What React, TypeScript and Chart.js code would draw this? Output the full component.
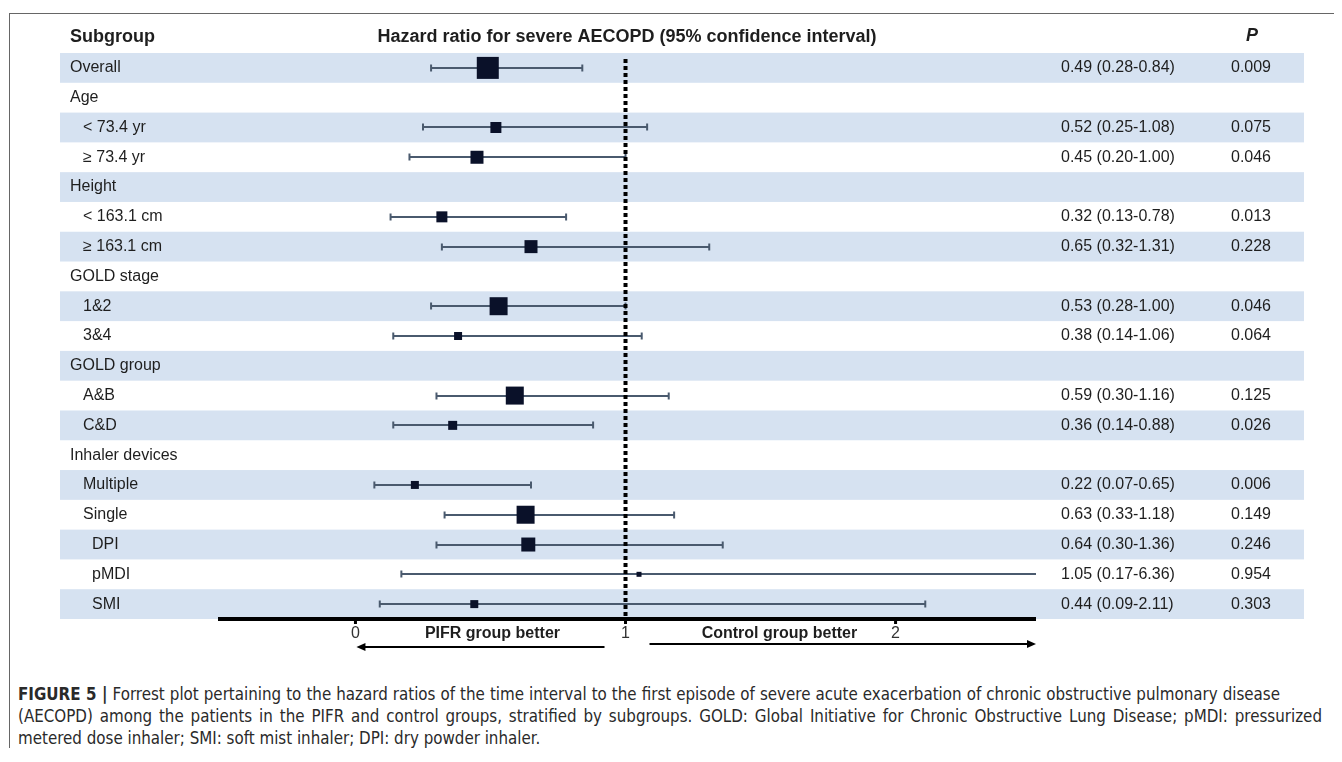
import React, { useEffect, useRef } from "react";
import { Chart, registerables } from "chart.js";

Chart.register(...registerables);

const rowLabels = [
  "Overall", "Age", "< 73.4 yr", "≥ 73.4 yr", "Height", "< 163.1 cm", "≥ 163.1 cm",
  "GOLD stage", "1&2", "3&4", "GOLD group", "A&B", "C&D", "Inhaler devices",
  "Multiple", "Single", "DPI", "pMDI", "SMI",
];
const rowLevels = [0, 0, 1, 1, 0, 1, 1, 0, 1, 1, 0, 1, 1, 0, 1, 1, 2, 2, 2];
const hazardRatio = [0.49, null, 0.52, 0.45, null, 0.32, 0.65, null, 0.53, 0.38, null, 0.59, 0.36, null, 0.22, 0.63, 0.64, 1.05, 0.44];
const ciLower = [0.28, null, 0.25, 0.2, null, 0.13, 0.32, null, 0.28, 0.14, null, 0.3, 0.14, null, 0.07, 0.33, 0.3, 0.17, 0.09];
const ciUpper = [0.84, null, 1.08, 1.0, null, 0.78, 1.31, null, 1.0, 1.06, null, 1.16, 0.88, null, 0.65, 1.18, 1.36, 6.36, 2.11];
const pValues = ["0.009", "", "0.075", "0.046", "", "0.013", "0.228", "", "0.046", "0.064", "", "0.125", "0.026", "", "0.006", "0.149", "0.246", "0.954", "0.303"];
const weights = [22, null, 11, 13, null, 11, 13, null, 18, 8, null, 18, 9, null, 8, 18, 14, 5, 8];
const xTicks = [0, 1, 2];

const FONT = "'Liberation Sans', Arial, Helvetica, sans-serif";
const TEXT = "#1e1e1e";
const BAND = "#d6e2f1";
const WHISKER = "#4a5a6e";
const SQUARE = "#0a1129";

const forestPlugin = {
  id: "forest",
  beforeDraw(chart: any) {
    const { ctx } = chart;
    const y = chart.scales.y;
    ctx.save();
    ctx.fillStyle = BAND;
    for (let i = 0; i < rowLabels.length; i += 2) {
      const top = y.getPixelForValue(i - 0.5);
      const bot = y.getPixelForValue(i + 0.5);
      ctx.fillRect(52, top, 1296 - 52, bot - top);
    }
    ctx.restore();
  },
  beforeDatasetsDraw(chart: any) {
    const { ctx, chartArea } = chart;
    const x = chart.scales.x;
    const y = chart.scales.y;
    ctx.save();
    ctx.strokeStyle = WHISKER;
    ctx.lineWidth = 2;
    for (let i = 0; i < rowLabels.length; i++) {
      const lo = ciLower[i];
      const hi = ciUpper[i];
      if (lo == null || hi == null) continue;
      const py = Math.round(y.getPixelForValue(i));
      const x1 = Math.max(x.getPixelForValue(lo), chartArea.left);
      const x2 = Math.min(x.getPixelForValue(hi), chartArea.right);
      ctx.beginPath();
      ctx.moveTo(x1, py);
      ctx.lineTo(x2, py);
      ctx.stroke();
      if (lo >= x.min) {
        ctx.beginPath();
        ctx.moveTo(x1, py - 3.5);
        ctx.lineTo(x1, py + 3.5);
        ctx.stroke();
      }
      if (hi <= x.max) {
        ctx.beginPath();
        ctx.moveTo(x2, py - 3.5);
        ctx.lineTo(x2, py + 3.5);
        ctx.stroke();
      }
    }
    // reference line at HR = 1
    const rx = x.getPixelForValue(1);
    ctx.strokeStyle = "#000";
    ctx.lineWidth = 4;
    ctx.setLineDash([4, 3]);
    ctx.beginPath();
    ctx.moveTo(rx, chartArea.top + 6);
    ctx.lineTo(rx, chartArea.bottom);
    ctx.stroke();
    ctx.restore();
  },
  afterDraw(chart: any) {
    const { ctx, chartArea } = chart;
    const x = chart.scales.x;
    const y = chart.scales.y;
    ctx.save();
    ctx.textBaseline = "middle";
    ctx.fillStyle = TEXT;

    // headers
    ctx.font = `bold 18px ${FONT}`;
    ctx.textAlign = "left";
    ctx.fillText("Subgroup", 62, 29);
    ctx.textAlign = "center";
    ctx.fillText("Hazard ratio for severe AECOPD (95% confidence interval)", 619, 29);
    ctx.font = `italic bold 18px ${FONT}`;
    ctx.fillText("P", 1244, 28);

    // rows
    ctx.font = `16px ${FONT}`;
    const indents = [62, 75, 84];
    for (let i = 0; i < rowLabels.length; i++) {
      const py = y.getPixelForValue(i);
      ctx.textAlign = "left";
      ctx.fillText(rowLabels[i], indents[rowLevels[i]], py);
      const h = hazardRatio[i];
      const lo = ciLower[i];
      const hi = ciUpper[i];
      if (h != null && lo != null && hi != null) {
        ctx.fillText(`${h.toFixed(2)} (${lo.toFixed(2)}-${hi.toFixed(2)})`, 1053, py);
      }
      if (pValues[i]) {
        ctx.textAlign = "center";
        ctx.fillText(pValues[i], 1243, py);
      }
    }

    // x axis
    const by = chartArea.bottom;
    ctx.fillStyle = "#000";
    ctx.fillRect(chartArea.left, by - 2, chartArea.right - chartArea.left, 4);
    ctx.font = `16px ${FONT}`;
    ctx.textAlign = "center";
    for (const t of xTicks) {
      const tx = x.getPixelForValue(t);
      ctx.fillStyle = "#000";
      ctx.fillRect(tx - 1.5, by, 3, 5);
      ctx.fillStyle = "#333";
      ctx.fillText(String(t), tx, by + 15);
    }
    ctx.fillStyle = TEXT;
    ctx.font = `bold 16px ${FONT}`;
    ctx.fillText("PIFR group better", x.getPixelForValue(0.5) + 2, by + 15);
    ctx.fillText("Control group better", x.getPixelForValue(1.57), by + 15);

    // arrows
    ctx.strokeStyle = "#000";
    ctx.fillStyle = "#000";
    ctx.lineWidth = 2;
    const ly = by + 28;
    const lStart = x.getPixelForValue(1) - 21;
    const lEnd = x.getPixelForValue(0) + 1;
    ctx.beginPath();
    ctx.moveTo(lStart, ly);
    ctx.lineTo(lEnd + 6, ly);
    ctx.stroke();
    ctx.beginPath();
    ctx.moveTo(lEnd, ly);
    ctx.lineTo(lEnd + 9, ly - 4);
    ctx.lineTo(lEnd + 9, ly + 4);
    ctx.closePath();
    ctx.fill();
    const ry = by + 25;
    const rStart = x.getPixelForValue(1) + 24;
    const rEnd = chartArea.right;
    ctx.beginPath();
    ctx.moveTo(rStart, ry);
    ctx.lineTo(rEnd - 6, ry);
    ctx.stroke();
    ctx.beginPath();
    ctx.moveTo(rEnd, ry);
    ctx.lineTo(rEnd - 9, ry - 4);
    ctx.lineTo(rEnd - 9, ry + 4);
    ctx.closePath();
    ctx.fill();
    ctx.restore();
  },
};

function ForestChart() {
  const ref = useRef<HTMLCanvasElement | null>(null);
  useEffect(() => {
    if (!ref.current) return;
    const points: any[] = [];
    hazardRatio.forEach((h, i) => {
      if (h != null) points.push({ x: h, y: i, s: weights[i] });
    });
    const chart = new Chart(ref.current, {
      type: "scatter",
      data: {
        datasets: [
          {
            label: "Hazard ratio",
            data: points,
            pointStyle: "rect",
            backgroundColor: SQUARE,
            borderWidth: 0,
            pointRadius: (c: any) => (c.raw ? c.raw.s / Math.SQRT2 : 0),
            pointHoverRadius: (c: any) => (c.raw ? c.raw.s / Math.SQRT2 : 0),
          } as any,
        ],
      },
      options: {
        responsive: false,
        animation: false,
        devicePixelRatio: 1,
        layout: { padding: { left: 210, right: 298, top: 45, bottom: 61 } },
        plugins: { legend: { display: false }, tooltip: { enabled: false } },
        scales: {
          x: { type: "linear", min: -0.509, max: 2.52, display: false },
          y: { type: "linear", min: -0.5, max: 18.5, reverse: true, display: false },
        },
      },
      plugins: [forestPlugin],
    });
    return () => chart.destroy();
  }, []);
  return <canvas ref={ref} width={1326} height={672} style={{ display: "block" }} />;
}

const lineStyle = (w?: number): React.CSSProperties => ({
  width: w,
  textAlign: "justify",
  textAlignLast: w ? "justify" : "left",
  whiteSpace: w ? "normal" : "nowrap",
  height: 22,
  overflow: "visible",
});

export default function App() {
  return (
    <div style={{ position: "relative", width: 1326, height: 740 }}>
      <div
        style={{
          position: "absolute",
          left: 1,
          top: 5,
          width: 1333,
          height: 748,
          borderTop: "1.5px solid #666",
          borderLeft: "1.5px solid #666",
          boxSizing: "border-box",
        }}
      />
      <div style={{ position: "absolute", left: 0, top: 0 }}>
        <ForestChart />
      </div>
      <div
        style={{
          position: "absolute",
          left: 10,
          top: 675,
          fontFamily: "'DejaVu Sans Condensed', 'Liberation Sans Narrow', sans-serif",
          fontSize: 16.8,
          lineHeight: "22px",
          color: "#2a2a2a",
        }}
      >
        <div style={lineStyle(1262)}>
          <b>FIGURE 5 |</b> Forrest plot pertaining to the hazard ratios of the time interval to the first episode of severe acute exacerbation of chronic obstructive pulmonary disease
        </div>
        <div style={lineStyle(1304)}>
          (AECOPD) among the patients in the PIFR and control groups, stratified by subgroups. GOLD: Global Initiative for Chronic Obstructive Lung Disease; pMDI: pressurized
        </div>
        <div style={lineStyle()}>metered dose inhaler; SMI: soft mist inhaler; DPI: dry powder inhaler.</div>
      </div>
    </div>
  );
}
